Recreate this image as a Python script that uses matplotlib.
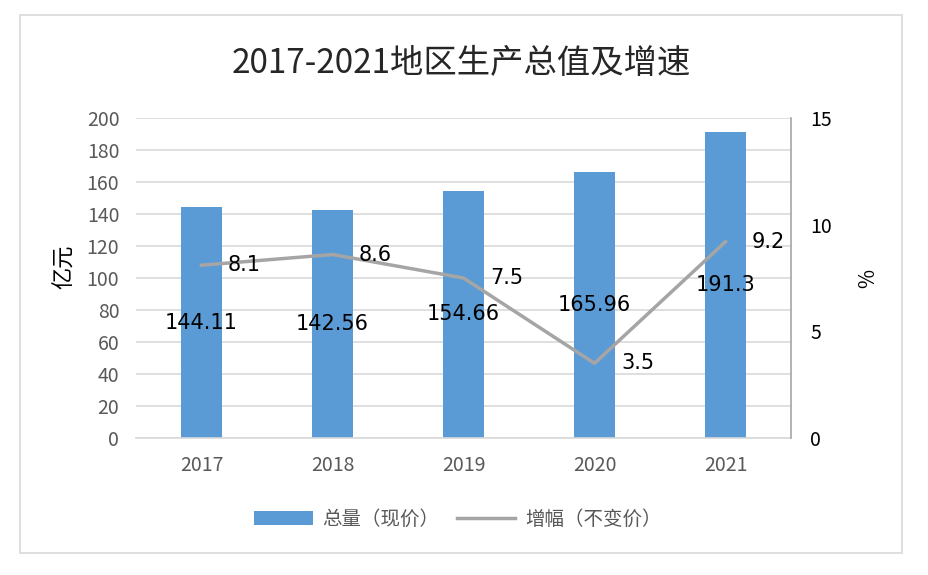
import matplotlib
matplotlib.use("Agg")
import matplotlib.pyplot as plt
from matplotlib.patches import Rectangle
import numpy as np

plt.rcParams['font.family'] = ['Noto Sans CJK SC', 'DejaVu Sans']

years = ['2017', '2018', '2019', '2020', '2021']
total = [144.11, 142.56, 154.66, 165.96, 191.3]
total_labels = ['144.11', '142.56', '154.66', '165.96', '191.3']
growth = [8.1, 8.6, 7.5, 3.5, 9.2]
left_ticks = [0, 20, 40, 60, 80, 100, 120, 140, 160, 180, 200]
right_ticks = [0, 5, 10, 15]

W, H = 929, 575
fig = plt.figure(figsize=(W/100, H/100), dpi=100)

# outer frame
fig.patches.append(Rectangle((20/W, 1-553/H), (902-20)/W, (553-15)/H,
                             transform=fig.transFigure, fill=False,
                             edgecolor='#D9D9D9', linewidth=1.2))

ax = fig.add_axes([136/W, 1-438/H, (791-136)/W, (438-118)/H])
x = np.arange(len(years))
bar_color = '#5B9BD5'
line_color = '#A5A5A5'
ax.bar(x, total, width=0.32, color=bar_color, zorder=2, label='总量（现价）')
ax.set_xlim(-0.5, len(years)-0.5)
ax.set_ylim(0, 200)
ax.set_yticks(left_ticks)
ax.set_yticklabels([str(t) for t in left_ticks])
ax.set_xticks(x)
ax.set_xticklabels(years)
ax.grid(axis='y', color='#D9D9D9', linewidth=1.2, zorder=0)
for s in ['top', 'left']:
    ax.spines[s].set_visible(False)
ax.spines['bottom'].set_color('#D9D9D9')
ax.spines['bottom'].set_linewidth(1.2)
ax.spines['right'].set_visible(False)
ax.tick_params(axis='both', length=0, labelsize=14, colors='#595959', pad=12)
ax.tick_params(axis='x', pad=12)
for xi, v, lab in zip(x, total, total_labels):
    ax.text(xi, v/2, lab, ha='center', va='center', fontsize=15, color='black',
            family=['DejaVu Sans'], zorder=5)

ax2 = ax.twinx()
ax2.plot(x, growth, color=line_color, linewidth=2.5, zorder=3, label='增幅（不变价）')
ax2.set_ylim(0, 15)
ax2.set_yticks(right_ticks)
ax2.set_yticklabels([str(t) for t in right_ticks])
for s in ['top', 'left', 'bottom']:
    ax2.spines[s].set_visible(False)
ax2.spines['right'].set_color('#A6A6A6')
ax2.spines['right'].set_linewidth(1.2)
ax2.tick_params(axis='y', length=0, labelsize=14, colors='black', pad=14)
for xi, v in zip(x, growth):
    ax2.annotate(f'{v}', (xi, v), xytext=(19, 0), textcoords='offset points',
                 ha='left', va='center', fontsize=15, color='black',
                 family=['DejaVu Sans'])

fig.text(65/W, 1-267/H, '亿元', rotation=90, ha='center', va='center', fontsize=16, color='black')
fig.text(868/W, 1-278/H, '%', rotation=90, ha='center', va='center', fontsize=15, color='black')
fig.text(461/W, 1-64/H, '2017-2021地区生产总值及增速', ha='center', va='center',
         fontsize=24, color='#262626')

h1, l1 = ax.get_legend_handles_labels()
h2, l2 = ax2.get_legend_handles_labels()
fig.legend(h1+h2, l1+l2, loc='center', bbox_to_anchor=(458/W, 1-519/H), ncol=2,
           frameon=False, fontsize=14, labelcolor='#595959', handlelength=3.0,
           columnspacing=0.9, handletextpad=0.5)

fig.savefig('out.png', dpi=100)
